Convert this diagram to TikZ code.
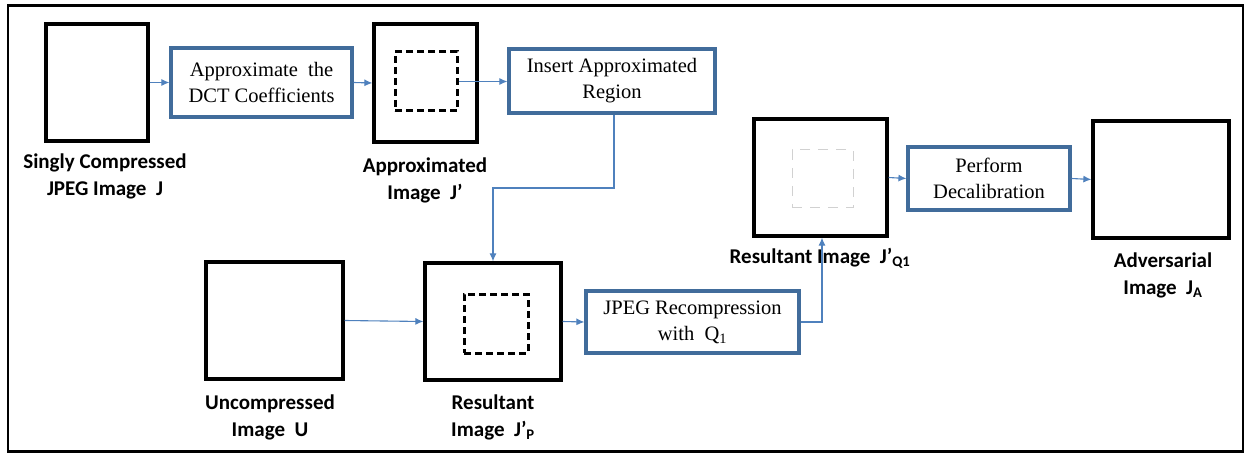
\documentclass[tikz,border=0pt]{standalone}
\usepackage{fontspec}
\setmainfont{Liberation Serif}
\newfontfamily\labfont{Carlito}
\usetikzlibrary{arrows.meta}
\definecolor{boxblue}{RGB}{65,108,155}
\definecolor{arrblue}{RGB}{79,129,189}
\begin{document}
\begin{tikzpicture}[x=1pt,y=-1pt,
  img/.style={draw=black, line width=3.3pt, inner sep=0pt},
  inbox/.style={draw=black, line width=3pt, dash pattern=on 7pt off 4pt, inner sep=0pt},
  faint/.style={draw=black!18, line width=1pt, dash pattern=on 10pt off 8pt, inner sep=0pt},
  proc/.style={draw=boxblue, line width=3.2pt, fill=white, inner sep=0pt, align=center,
    font=\fontsize{20.5}{26}\selectfont},
  lab/.style={align=center, font=\labfont\bfseries\fontsize{21}{27}\selectfont, inner sep=0pt},
  arr/.style={draw=arrblue, line width=1.1pt, -{Latex[length=8pt,width=7pt]}},
]
\useasboundingbox (0,0) rectangle (1250,457);
\node[draw=black, line width=2.2pt, minimum width=1235pt, minimum height=446pt, inner sep=0pt] (frame) at (625.5,228.5) {};

% top row
\node[img, minimum width=102pt, minimum height=117pt] (J) at (97,82.5) {};
\node[proc, minimum width=181pt, minimum height=69pt] (p1) at (261.5,82.5) {Approximate\ \ the\\DCT Coefficients};
\node[img, minimum width=103pt, minimum height=118pt] (Jp) at (425.5,83) {};
\node[inbox, minimum width=62pt, minimum height=59pt] (Jpin) at (426,81.5) {};
\node[proc, minimum width=206pt, minimum height=64pt] (ins) at (612,81) {Insert Approximated\\Region};

% bottom row
\node[img, minimum width=137pt, minimum height=117pt] (U) at (274.5,320.5) {};
\node[img, minimum width=136pt, minimum height=117pt] (R) at (493,321.5) {};
\node[inbox, minimum width=64pt, minimum height=59pt] (Rin) at (496,323.5) {};
\node[proc, minimum width=213pt, minimum height=62pt] (jpeg) at (692.5,322) {JPEG Recompression\\with\ \ Q\textsubscript{1}};

% right part
\node[img, minimum width=133pt, minimum height=117pt] (RQ) at (820.5,177.5) {};
\node[faint, minimum width=61pt, minimum height=58pt] (RQin) at (822.5,179) {};
\node[proc, minimum width=162pt, minimum height=63pt] (perf) at (989,178.5) {Perform\\Decalibration};
\node[img, minimum width=136pt, minimum height=117pt] (A) at (1161,179.5) {};

% labels
\node[lab] (lJ) at (105,176.5) {Singly Compressed\\JPEG Image\ \ J};
\node[lab] (lJp) at (425,180) {Approximated\\Image\ \ J’};
\node[lab] (lU) at (270,417.5) {Uncompressed\\Image\ \ U};
\node[lab] (lR) at (493,417.5) {Resultant\\Image\ \ J’\textsubscript{P}};
\node[lab] (lRQ) at (820,258) {Resultant Image\ \ J’\textsubscript{Q1}};
\node[lab] (lA) at (1163,275) {Adversarial\\Image\ \ J\textsubscript{A}};

% connectors
\draw[arr] (J.east) -- (p1.west);
\draw[arr] (p1.east) -- (Jp.west);
\draw[arr] (Jpin.east) -- (Jpin.east -| ins.west);
\coordinate (bend) at (614,188);
\draw[arr] ([xshift=2pt]ins.south) -- (bend) -| (R.north);
\draw[arr] (U.east) -- (R.west);
\draw[arr] (R.east) -- (jpeg.west);
\draw[arr] (jpeg.east) -| ([xshift=1.5pt]RQ.south);
\draw[arr] (RQ.east) -- (perf.west);
\draw[arr] (perf.east) -- (A.west);
\end{tikzpicture}
\end{document}
